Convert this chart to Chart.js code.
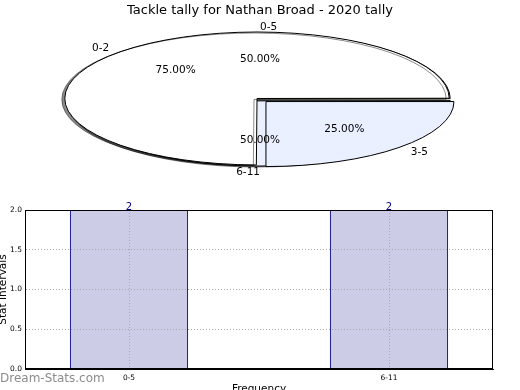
<!DOCTYPE html>
<html>
<head>
<meta charset="utf-8">
<script src="https://cdn.jsdelivr.net/npm/chart.js@4.4.0/dist/chart.umd.min.js"></script>
<style>
  html, body { margin: 0; padding: 0; background: #fff; }
  body { width: 520px; height: 390px; position: relative; overflow: hidden; font-family: 'DejaVu Sans', sans-serif; }
  canvas { position: absolute; left: 0; top: 0; }
  #title { position: absolute; left: 0; top: 2px; width: 520px; text-align: center; font-size: 13px; color: #000; }
  #mark { position: absolute; left: 0; top: 371px; font-size: 12px; color: #8c8c8c; }
</style>
</head>
<body>
<canvas id="pieB" width="520" height="390"></canvas>
<canvas id="pieA" width="520" height="390"></canvas>
<canvas id="bars" width="520" height="390"></canvas>
<div id="title"></div>
<div id="mark">Dream-Stats.com</div>
<script>
// data
const chartTitle = 'Tackle tally for Nathan Broad - 2020 tally';
const pieALabels = ['0-2', '3-5'];
const pieAValues = [3, 1];
const pieBLabels = ['0-5', '6-11'];
const pieBValues = [2, 2];
const barLabels = ['0-5', '6-11'];
const barValues = [2, 2];
const yTicks = [0, 0.5, 1, 1.5, 2];

document.getElementById('title').textContent = chartTitle;

const FONT = "'DejaVu Sans', sans-serif";
const TAU = Math.PI * 2;
// ellipse the round pies get squashed into
const pieGeo = { cx: 260, cy: 99.5, rx: 188, ry: 65 };

// draws the pie arcs squashed into an ellipse, strokes stay 1px
const ellipsePie = {
    id: 'ellipsePie',
    beforeDatasetsDraw(chart, args, opts) {
        const ctx = chart.ctx;
        const arcs = chart.getDatasetMeta(0).data;
        const R = arcs[0].outerRadius;
        const base = ctx.getTransform();
        ctx.save();
        ctx.translate(pieGeo.cx, pieGeo.cy);
        ctx.scale(pieGeo.rx / R, pieGeo.ry / R);
        ctx.translate(-arcs[0].x, -arcs[0].y);
        ctx.stroke = function () {
            this.save();
            this.setTransform(base);
            CanvasRenderingContext2D.prototype.stroke.call(this);
            this.restore();
        };
        arcs.forEach((arc, i) => {
            ctx.save();
            if (opts.shadow && opts.shadow[i]) {
                ctx.shadowColor = 'rgba(0,0,0,0.45)';
                ctx.shadowOffsetX = -3;
                ctx.shadowOffsetY = 1;
            }
            arc.draw(ctx);
            ctx.restore();
        });
        delete ctx.stroke;
        ctx.restore();
        return false;
    }
};

function drawPieLabels(ctx, chart) {
    const arcs = chart.getDatasetMeta(0).data;
    const values = chart.data.datasets[0].data;
    const total = values.reduce((a, b) => a + b, 0);
    const R = arcs[0].outerRadius;
    const sx = pieGeo.rx / R, sy = pieGeo.ry / R;
    ctx.save();
    ctx.font = '10.5px ' + FONT;
    ctx.fillStyle = '#000';
    ctx.textBaseline = 'middle';
    arcs.forEach((arc, i) => {
        const mid = (arc.startAngle + arc.endAngle) / 2;
        const circ = arc.endAngle - arc.startAngle;
        const off = (arc.options.offset || 0) / 4;
        const push = off * (2 - Math.sin(Math.min(Math.PI, circ)));
        const cos = Math.cos(mid), sin = Math.sin(mid);
        const x0 = pieGeo.cx + push * cos * sx;
        const y0 = pieGeo.cy + push * sin * sy;
        const phi = ((-mid % TAU) + TAU) % TAU;
        ctx.textAlign = Math.cos(phi) > 0 ? 'left' : 'right';
        ctx.fillText(chart.data.labels[i], x0 + 1.09 * pieGeo.rx * cos, y0 + 1.09 * pieGeo.ry * sin + 0.5);
        ctx.textAlign = 'center';
        ctx.fillText((values[i] / total * 100).toFixed(2) + '%', x0 + 0.59 * pieGeo.rx * cos, y0 + 0.6 * pieGeo.ry * sin + 0.5);
    });
    ctx.restore();
}

function pieConfig(labels, values, rotation, offsets, shadow) {
    return {
        type: 'pie',
        data: {
            labels: labels,
            datasets: [{
                data: values,
                backgroundColor: ['#ffffff', '#eaf0ff'],
                borderColor: '#000',
                borderWidth: 1,
                offset: offsets
            }]
        },
        options: {
            responsive: false,
            animation: false,
            events: [],
            rotation: rotation,
            plugins: {
                legend: { display: false },
                tooltip: { enabled: false },
                ellipsePie: { shadow: shadow }
            }
        },
        plugins: [ellipsePie]
    };
}

const pieB = new Chart(document.getElementById('pieB'),
    pieConfig(pieBLabels, pieBValues, -90, [9, 9], [false, true]));
const pieA = new Chart(document.getElementById('pieA'),
    pieConfig(pieALabels, pieAValues, 180, [16, 32], [true, false]));
// labels of both pies sit on the top canvas
drawPieLabels(pieA.ctx, pieB);
drawPieLabels(pieA.ctx, pieA);

// frame + value labels for the bar chart
const barExtras = {
    id: 'barExtras',
    afterDraw(chart) {
        const ctx = chart.ctx;
        const a = chart.chartArea;
        ctx.save();
        ctx.strokeStyle = '#000';
        ctx.lineWidth = 1;
        ctx.strokeRect(Math.round(a.left) + 0.5, Math.round(a.top) + 0.5,
            Math.round(a.right - a.left) - 1, Math.round(a.bottom - a.top) - 1);
        ctx.fillStyle = '#000080';
        ctx.font = '10px ' + FONT;
        ctx.textAlign = 'center';
        ctx.textBaseline = 'alphabetic';
        chart.getDatasetMeta(0).data.forEach((bar, i) => {
            ctx.fillText(String(barValues[i]), bar.x, bar.y - 0.5);
        });
        ctx.restore();
    }
};

new Chart(document.getElementById('bars'), {
    type: 'bar',
    data: {
        datasets: [{
            data: barValues.map((v, i) => ({ x: i, y: v })),
            backgroundColor: 'rgba(0, 0, 128, 0.2)',
            borderColor: '#000080',
            borderWidth: 1,
            barPercentage: 0.455,
            categoryPercentage: 1
        }]
    },
    options: {
        responsive: false,
        animation: false,
        events: [],
        layout: { padding: { top: 210, right: 27, left: -4, bottom: -8 } },
        plugins: { legend: { display: false }, tooltip: { enabled: false } },
        scales: {
            x: {
                type: 'linear',
                offset: false,
                min: -0.4,
                max: 1.4,
                afterBuildTicks: s => { s.ticks = barLabels.map((_, i) => ({ value: i })); },
                afterFit: s => { s.height = 29; },
                ticks: { callback: v => barLabels[v], font: { family: FONT, size: 7.5 }, color: '#000', padding: 5, maxRotation: 0 },
                grid: { color: '#aaaaaa', drawTicks: false, offset: false, z: 1 },
                border: { color: '#000', dash: [1, 2], z: 2 },
                title: { display: true, text: 'Frequency', font: { family: FONT, size: 10.5 }, color: '#000', padding: { top: 0, bottom: 2 } }
            },
            y: {
                min: 0,
                max: 2,
                afterBuildTicks: s => { s.ticks = yTicks.map(v => ({ value: v })); },
                afterFit: s => { s.width = 29; },
                ticks: { callback: v => v.toFixed(1), font: { family: FONT, size: 7.5 }, color: '#000', padding: 3 },
                grid: { color: '#aaaaaa', drawTicks: false, z: 1 },
                border: { color: '#000', dash: [1, 2], z: 2 },
                title: { display: true, text: 'Stat Intervals', font: { family: FONT, size: 10.5 }, color: '#000', padding: { top: 1, bottom: 0 } }
            }
        }
    },
    plugins: [barExtras]
});
</script>
</body>
</html>
